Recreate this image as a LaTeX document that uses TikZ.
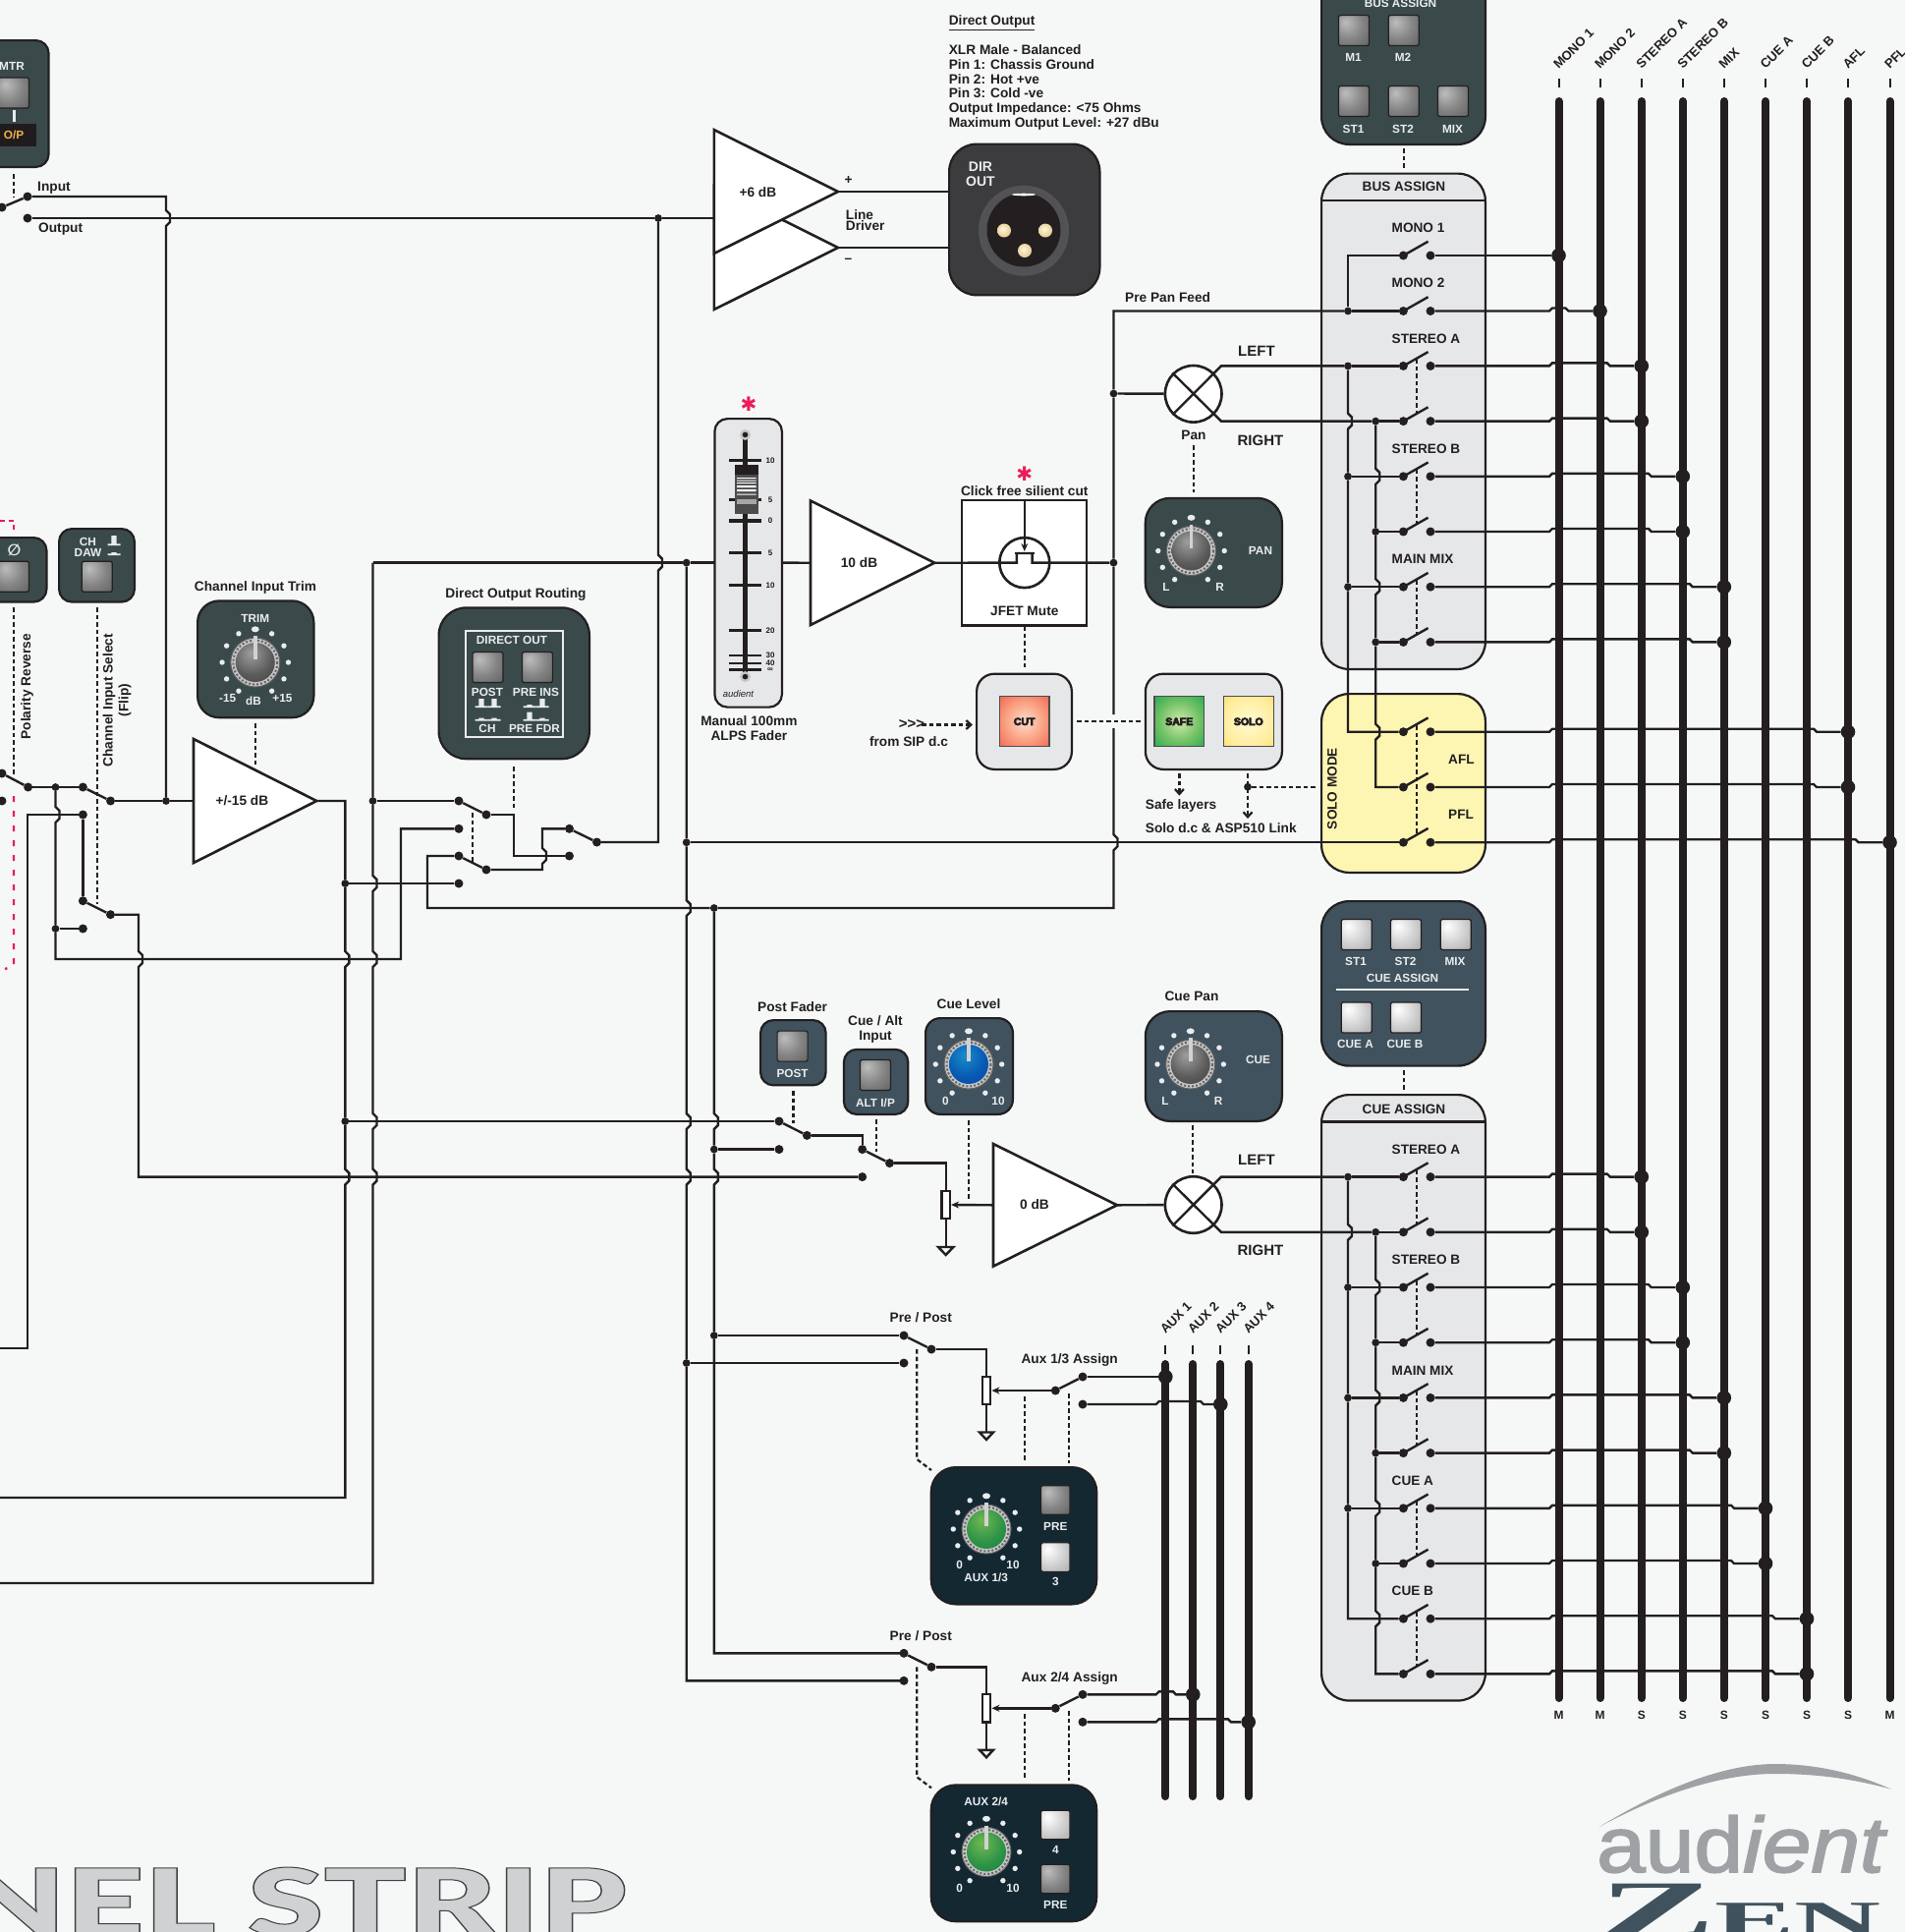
\documentclass[tikz,border=0pt]{standalone}
\usepackage{fontspec}
\setmainfont{Liberation Sans}
\newfontfamily\serifz{Liberation Serif}
\newfontfamily\dejav{DejaVu Sans}
\newfontfamily\heavyf{Lato Black}
\usetikzlibrary{arrows.meta,calc,shapes.geometric}
\definecolor{ink}{HTML}{231F20}
\definecolor{bgc}{HTML}{F5F8F7}
\definecolor{boxg}{HTML}{E6E7E9}
\definecolor{tealp}{HTML}{3A4A4B}
\definecolor{bluep}{HTML}{40525D}
\definecolor{navyp}{HTML}{142832}
\definecolor{dirp}{HTML}{3C3C3E}
\definecolor{yelb}{HTML}{FDF6B2}
\definecolor{redm}{HTML}{ED1C5B}
\definecolor{paper}{HTML}{E9ECEC}
\definecolor{logog}{HTML}{9EA2A5}
\definecolor{ambr}{HTML}{F0B24A}
\pgfdeclareradialshading{btndim}{\pgfpoint{-14bp}{14bp}}{rgb(0bp)=(.74,.74,.74);rgb(25bp)=(.52,.52,.52);rgb(60bp)=(.30,.30,.30);rgb(100bp)=(.30,.30,.30)}
\pgfdeclareradialshading{btnbri}{\pgfpoint{-14bp}{14bp}}{rgb(0bp)=(1,1,1);rgb(25bp)=(.82,.82,.82);rgb(60bp)=(.58,.58,.58);rgb(100bp)=(.58,.58,.58)}
\pgfdeclareradialshading{btncut}{\pgfpoint{0bp}{0bp}}{rgb(0bp)=(.99,.87,.80);rgb(20bp)=(.98,.62,.50);rgb(42bp)=(.92,.33,.25);rgb(100bp)=(.92,.33,.25)}
\pgfdeclareradialshading{btnsafe}{\pgfpoint{0bp}{0bp}}{rgb(0bp)=(.82,.92,.68);rgb(20bp)=(.45,.76,.40);rgb(42bp)=(.05,.64,.30);rgb(100bp)=(.05,.64,.30)}
\pgfdeclareradialshading{btnsolo}{\pgfpoint{0bp}{0bp}}{rgb(0bp)=(1,.98,.82);rgb(25bp)=(1,.93,.62);rgb(45bp)=(.95,.84,.35);rgb(100bp)=(.95,.84,.35)}
\pgfdeclareradialshading{knobgray}{\pgfpoint{-6bp}{12bp}}{rgb(0bp)=(.62,.62,.62);rgb(25bp)=(.36,.36,.36);rgb(60bp)=(.16,.16,.16);rgb(100bp)=(.16,.16,.16)}
\pgfdeclareradialshading{knobblue}{\pgfpoint{-6bp}{12bp}}{rgb(0bp)=(.10,.55,.80);rgb(25bp)=(.03,.35,.70);rgb(60bp)=(.06,.20,.62);rgb(100bp)=(.06,.20,.62)}
\pgfdeclareradialshading{knobgreen}{\pgfpoint{-6bp}{12bp}}{rgb(0bp)=(.45,.72,.32);rgb(25bp)=(.18,.58,.28);rgb(60bp)=(.05,.42,.22);rgb(100bp)=(.05,.42,.22)}
\pgfdeclareradialshading{pinau}{\pgfpoint{-5bp}{5bp}}{rgb(0bp)=(1,.97,.85);rgb(40bp)=(.86,.72,.47);rgb(100bp)=(.65,.52,.30)}
\pgfdeclareradialshading{xlrring}{\pgfpoint{0bp}{0bp}}{rgb(0bp)=(.30,.30,.31);rgb(40bp)=(.34,.34,.35);rgb(50bp)=(.50,.50,.51);rgb(100bp)=(.50,.50,.51)}
\newcommand{\lblf}{\fontsize{13.7}{15}\bfseries\selectfont}
\newcommand{\plbf}{\fontsize{11.8}{13}\bfseries\selectfont}
\tikzset{
  wire/.style={draw=ink,line width=2.4,line join=miter},
  buswire/.style={draw=ink,line width=8,line cap=round},
  ctrl/.style={draw=ink,line width=2.2,dash pattern=on 4.5 off 3},
  redctrl/.style={draw=redm,line width=2.4,dash pattern=on 6 off 9},
  smalld/.style={circle,fill=ink,inner sep=0,minimum size=7.8},
  cdot/.style={circle,fill=ink,inner sep=0,minimum size=9},
  bigd/.style={circle,fill=ink,inner sep=0,minimum size=14.6},
  amp/.style={draw=ink,line width=2.6,fill=white,line join=miter},
  lbl/.style={font=\lblf,text=ink,inner sep=0},
  titleb/.style={font=\fontsize{13.6}{15}\bfseries\selectfont,text=ink,inner sep=0},
  bigl/.style={font=\fontsize{15}{15}\bfseries\selectfont,text=ink,inner sep=0},
  plbl/.style={font=\plbf,text=paper,inner sep=0},
  tinyl/.style={font=\fontsize{8}{9}\bfseries\selectfont,text=ink,inner sep=0},
  pbase/.style={draw=ink,line width=2.2,inner sep=0,outer sep=0,anchor=north west,rounded corners=#1},
  tealbox/.style={pbase=#1,fill=tealp},
  bluebox/.style={pbase=#1,fill=bluep},
  navybox/.style={pbase=#1,fill=navyp},
  dirbox/.style={pbase=#1,fill=dirp},
  greybox/.style={pbase=#1,fill=boxg},
  yelbox/.style={pbase=#1,fill=yelb},
  btn/.style={draw=ink,line width=1.2,inner sep=0,minimum width=#1,minimum height=#1,rounded corners=1.5},
  litb/.style={draw=ink!80,line width=1.2,inner sep=0,minimum width=50.6,minimum height=51},
  litt/.style={inner sep=0,text=ink,font=\fontsize{10.5}{11}\bfseries\selectfont},
  potr/.style={draw=ink,line width=2.2,fill=white,inner sep=0,minimum width=8.6,minimum height=28.4},
  tipf/.style={-{Stealth[length=8,width=7]}},
  tipo/.style={-{Straight Barb[length=5,width=9]}},
}
\newcommand{\heavytxt}[1]{\special{pdf:code 2 Tr 0.7 w 0.14 0.12 0.13 RG}#1\special{pdf:code 0 Tr}}
\newcommand{\pnl}[7]{\node[#2=#7,minimum width={#5-#3-2.2},minimum height={#6-#4-2.2}] (#1) at (#3+1.1,#4+1.1) {};}
\newcommand{\vh}[2]{-- (#1,#2-8) -- (#1+4,#2-4) -- (#1+4,#2+4) -- (#1,#2+8)}
\newcommand{\ctl}[5]{\coordinate (#1a) at (#2,#3);\coordinate (#1b) at (#4,#5);\draw[ctrl] (#1a) -- (#1b);}
\newcommand{\ctla}[5]{\coordinate (#1a) at (#2,#3);\coordinate (#1b) at (#4,#5);\draw[ctrl,tipo] (#1a) -- (#1b);}
\newcommand{\tcen}[5][lbl]{\node[#1,anchor=base] (#2) at (#3,#4+4.8) {#5};}
\newcommand{\tlef}[5][lbl]{\node[#1,anchor=base west] (#2) at (#3,#4+4.8) {#5};}
\newcommand{\pcen}[4]{\node[plbl,anchor=base] (#1) at (#2,#3+4.2) {#4};}
\newcommand{\sbtn}[5]{\node[btn=#5,shading=#4] (#1) at (#2,#3) {};}
\newcommand{\knob}[4]{%
  \foreach \aa in {-150,-120,-90,-60,-30,30,60,90,120,150}{\fill[paper] ({#2+33.7*sin(\aa)},{#3-33.7*cos(\aa)}) circle (2.7);}
  \fill[paper] (#2,#3-33.7) ellipse (4 and 3);
  \node[circle,draw=ink!70,line width=1,fill=gray!45,inner sep=0,minimum size=50] (#1) at (#2,#3) {};
  \draw[gray!80!black,line width=2,dash pattern=on 2 off 2] (#2,#3) circle (22.5);
  \node[circle,shading=#4,inner sep=0,minimum size=40] (#1i) at (#2,#3) {};
  \draw[line width=3.6,draw=gray!35] (#2,#3-27) -- (#2,#3-3);
}
\newcommand{\latch}[3]{\fill[paper] (#1-6.5,#2) rectangle (#1+6.5,#2-1.6) (#1-2.6,#2) rectangle (#1+2.6,#2-#3);}
\newcommand{\hopw}[4]{\draw[wire] (#1) -- (1577,#3) -- (1580,#3-3) -- (#4-35,#3-3) -- (#4-32,#3) -- (#2);}
\newcommand{\triamp}[5]{\coordinate (#1I) at (#2,{(#3+#4)/2});\coordinate (#1O) at (#5,{(#3+#4)/2});\draw[amp] (#2,#3) -- (#2,#4) -- (#1O) -- cycle;}
\begin{document}
\begin{tikzpicture}[x=1pt,y=-1pt]
\path[use as bounding box,fill=bgc] (0,0) rectangle (1939,1966);
\clip (0,0) rectangle (1939,1966);

%% ---------- big background text and logo
\node[anchor=base east,inner sep=0] (stripword) at (638,1970) {\scalebox{1.467}[1]{\fontsize{95}{95}\heavyf\selectfont\color[HTML]{D0D1D3}\special{pdf:code 2 Tr 1 w 0.25 0.25 0.27 RG}NEL STRIP\special{pdf:code 0 Tr}}};
\fill[logog] (1627.3,1859.3) .. controls (1700,1815) and (1760,1795) .. (1806.7,1795) .. controls (1850,1795) and (1890,1805) .. (1925,1820.7) .. controls (1885,1810) and (1850,1805) .. (1806.7,1805) .. controls (1760,1805) and (1700,1820) .. (1627.3,1859.3) -- cycle;
\node[anchor=base west,inner sep=0,text=logog] (logoa) at (1625,1905) {\scalebox{1.115}[1]{\fontsize{80}{80}\selectfont\special{pdf:code 2 Tr 1.6 w 0.62 0.635 0.647 RG}aud\itshape ient\special{pdf:code 0 Tr}}};
\node[anchor=base west,inner sep=0,text=bluep] (logoz) at (1627,1971) {\scalebox{2.15}[1]{\fontsize{83}{83}\serifz\bfseries\selectfont Z}};
\node[anchor=base west,inner sep=0,text=bluep] (logoe) at (1745,1971) {\scalebox{2.3}[1]{\fontsize{53}{53}\serifz\bfseries\selectfont EN}};

%% ---------- grey boxes on the right
\pnl{busbox}{greybox}{1344}{175.5}{1513}{682}{28}
\pnl{cuebox}{greybox}{1344}{1113}{1513}{1731.6}{28}
\pnl{solobox}{yelbox}{1344}{705}{1513}{889}{28}
\coordinate (bh1) at (1345,204);\coordinate (bh2) at (1512,204);\draw[wire] (bh1) -- (bh2);
\coordinate (ch1) at (1345,1141.5);\coordinate (ch2) at (1512,1141.5);\draw[wire] (ch1) -- (ch2);
\tcen[titleb]{busT}{1429}{190}{BUS ASSIGN}
\tcen[titleb]{cueT}{1429}{1129}{CUE ASSIGN}
\foreach \nm/\lb/\yy in {m1/MONO 1/232,m2/MONO 2/288,sa/STEREO A/344.6,sb/STEREO B/456.7,mm/MAIN MIX/569,csa/STEREO A/1170,csb/STEREO B/1282,cmm/MAIN MIX/1394.3,cca/CUE A/1506.6,ccb/CUE B/1619}
  {\tlef[titleb]{lb\nm}{1416.5}{\yy}{\lb}}
\node[titleb,rotate=90] (soloT) at (1356,802.5) {SOLO MODE};
\tlef[titleb]{aflT}{1474}{773}{AFL}
\tlef[titleb]{pflT}{1474}{829}{PFL}

%% ---------- main buses
\foreach \n/\bx/\txt/\kd in {1/1586.5/MONO 1/M,2/1628.5/MONO 2/M,3/1670.8/STEREO A/S,4/1712.8/STEREO B/S,5/1754.8/MIX/S,6/1797/CUE A/S,7/1839/CUE B/S,8/1881/AFL/S,9/1923.5/PFL/M}{
  \coordinate (busT\n) at (\bx,103);\coordinate (busB\n) at (\bx,1728);
  \draw[buswire] (busT\n) -- (busB\n);
  \coordinate (tickA\n) at (\bx,80);\coordinate (tickB\n) at (\bx,89);
  \draw[draw=ink,line width=2] (tickA\n) -- (tickB\n);
  \node[lbl,rotate=45,anchor=base west,font=\fontsize{13}{14}\bfseries\selectfont] (busL\n) at (\bx,71) {\txt};
  \node[lbl,font=\fontsize{12}{14}\bfseries\selectfont] (busK\n) at (\bx,1745) {\kd};
}

%% ---------- bus assign rows
\foreach \i/\yy/\tg/\bx in {1/260/1/1586.5,2/316.5/2/1628.5,3/372.4/3/1670.8,4/428.6/3/1670.8,5/484.8/4/1712.8,6/541/4/1712.8,7/597.2/5/1754.8,8/653.4/5/1754.8}{
  \node[cdot] (bL\i) at (1428.4,\yy) {};
  \node[cdot] (bR\i) at (1456,\yy) {};
  \coordinate (bA\i) at (1453.6,\yy-14.3);
  \draw[wire] (bL\i.center) -- (bA\i);
  \node[bigd] (bD\i) at (\bx,\yy) {};
}
\draw[wire] (bR1) -- (bD1);
\hopw{bR2}{bD2}{316.5}{1628.5}
\hopw{bR3}{bD3}{372.4}{1670.8}
\hopw{bR4}{bD4}{428.6}{1670.8}
\hopw{bR5}{bD5}{484.8}{1712.8}
\hopw{bR6}{bD6}{541}{1712.8}
\hopw{bR7}{bD7}{597.2}{1754.8}
\hopw{bR8}{bD8}{653.4}{1754.8}
\foreach \p/\yy in {g1/372.4,g2/484.8,g3/597.2}{\ctl{\p}{1442}{\yy-7}{1442}{\yy+49}}
\foreach \n/\xx/\yy in {bJ2/1372/316.5,bJ3/1372/372.4,bJ5/1372/484.8,bJ7/1372/597.2,bJ4/1400.2/428.6,bJ6/1400.2/541,bJ8/1400.2/653.4}{\node[smalld] (\n) at (\xx,\yy) {};}

%% ---------- solo rows
\foreach \i/\yy/\bx in {1/744.7/1881,2/801/1881,3/857.2/1923.5}{
  \node[cdot] (sL\i) at (1428.4,\yy) {};
  \node[cdot] (sR\i) at (1456,\yy) {};
  \coordinate (sA\i) at (1453.6,\yy-14.3);
  \draw[wire] (sL\i.center) -- (sA\i);
  \node[bigd] (sD\i) at (\bx,\yy) {};
}
\hopw{sR1}{sD1}{744.7}{1881}
\hopw{sR2}{sD2}{801}{1881}
\hopw{sR3}{sD3}{857.2}{1923.5}
\ctl{gs}{1442}{738}{1442}{848}

%% ---------- rails of bus assign
\draw[wire] (bL1) -- (1372,260) -- (bJ2);
\draw[wire] (bJ3) \vh{1372}{428.6} -- (bJ5) -- (bJ7) -- (1372,744.7) -- (sL1);
\draw[wire] (bJ4) \vh{1400.2}{484.8} -- (bJ6) \vh{1400.2}{597.2} -- (bJ8) \vh{1400.2}{744.7} -- (1400.2,801) -- (sL2);
\draw[wire] (bJ2) -- (bL2);
\draw[wire] (bJ3) -- (bL3);
\draw[wire] (bJ4) -- (bL4);
\draw[wire] (bJ5) -- (bL5);
\draw[wire] (bJ6) -- (bL6);
\draw[wire] (bJ7) -- (bL7);
\draw[wire] (bJ8) -- (bL8);

%% ---------- cue assign rows
\foreach \i/\yy/\bx in {0/1197.6/1670.8,1/1253.8/1670.8,2/1310/1712.8,3/1366.2/1712.8,4/1422.4/1754.8,5/1478.6/1754.8,6/1534.8/1797,7/1591/1797,8/1647.2/1839,9/1703.4/1839}{
  \node[cdot] (cL\i) at (1428.4,\yy) {};
  \node[cdot] (cR\i) at (1456,\yy) {};
  \coordinate (cA\i) at (1453.6,\yy-14.3);
  \draw[wire] (cL\i.center) -- (cA\i);
  \node[bigd] (cD\i) at (\bx,\yy) {};
  \hopw{cR\i}{cD\i}{\yy}{\bx}
}
\foreach \p/\yy in {h1/1197.6,h2/1310,h3/1422.4,h4/1534.8,h5/1647.2}{\ctl{\p}{1442}{\yy-7}{1442}{\yy+49}}
\foreach \n/\xx/\yy in {cJ0/1372/1197.6,cJ2/1372/1310,cJ4/1372/1422.4,cJ6/1372/1534.8,cJ1/1400.2/1253.8,cJ3/1400.2/1366.2,cJ5/1400.2/1478.6,cJ7/1400.2/1591}{\node[smalld] (\n) at (\xx,\yy) {};}
\draw[wire] (cJ0) \vh{1372}{1253.8} -- (cJ2) -- (cJ4) -- (cJ6) -- (1372,1647.2) -- (cL8);
\draw[wire] (cJ1) \vh{1400.2}{1310} -- (cJ3) \vh{1400.2}{1422.4} -- (cJ5) \vh{1400.2}{1534.8} -- (cJ7) \vh{1400.2}{1647.2} -- (1400.2,1703.4) -- (cL9);
\draw[wire] (cJ0) -- (cL0);
\draw[wire] (cJ1) -- (cL1);
\draw[wire] (cJ2) -- (cL2);
\draw[wire] (cJ3) -- (cL3);
\draw[wire] (cJ4) -- (cL4);
\draw[wire] (cJ5) -- (cL5);
\draw[wire] (cJ6) -- (cL6);
\draw[wire] (cJ7) -- (cL7);

%% ---------- bus assign panel (top right)
\pnl{busp}{tealbox}{1344}{-40}{1513}{148}{28}
\pcen{busp1}{1425.5}{3}{BUS ASSIGN}
\sbtn{pm1}{1378}{31}{btndim}{31}
\sbtn{pm2}{1428.8}{31}{btndim}{31}
\sbtn{ps1}{1378}{103}{btndim}{31}
\sbtn{ps2}{1428.8}{103}{btndim}{31}
\sbtn{ps3}{1479}{103}{btndim}{31}
\pcen{lm1}{1377.5}{58.5}{M1}
\pcen{lm2}{1428}{58.5}{M2}
\pcen{ls1}{1377.5}{131.7}{ST1}
\pcen{ls2}{1428}{131.7}{ST2}
\pcen{ls3}{1478.5}{131.7}{MIX}
\ctl{busd}{1429}{151}{1429}{173}

%% ---------- cue assign panel
\pnl{cuep}{bluebox}{1344}{916}{1513}{1085.7}{28}
\sbtn{cb1}{1380.7}{951}{btnbri}{31}
\sbtn{cb2}{1431}{951}{btnbri}{31}
\sbtn{cb3}{1481.7}{951}{btnbri}{31}
\sbtn{cb4}{1380.7}{1035.5}{btnbri}{31}
\sbtn{cb5}{1431}{1035.5}{btnbri}{31}
\pcen{clb1}{1380}{978.5}{ST1}
\pcen{clb2}{1430.5}{978.5}{ST2}
\pcen{clb3}{1481}{978.5}{MIX}
\pcen{clb4}{1427.5}{995}{CUE ASSIGN}
\coordinate (cueru1) at (1360,1007);\coordinate (cueru2) at (1495,1007);\draw[draw=paper,line width=1.6] (cueru1) -- (cueru2);
\pcen{clb5}{1379.5}{1062.7}{CUE A}
\pcen{clb6}{1430}{1062.7}{CUE B}
\ctl{cued}{1429}{1089}{1429}{1110}

%% ---------- MTR, polarity and channel select panels
\pnl{mtrp}{tealbox}{-50}{40}{50.6}{171}{13}
\pcen{mtrl}{12}{67}{MTR}
\sbtn{mtrb}{14}{94.5}{btndim}{31}
\node[fill=ink!90!black,inner sep=0,minimum width=47,minimum height=23] (opbox) at (13.5,137.5) {};
\coordinate (opa) at (14,112);\coordinate (opb) at (14,124);\draw[draw=paper,line width=3] (opa) -- (opb);
\node[plbl,text=ambr] (opl) at (14,137) {O/P};
\pnl{polp}{tealbox}{-50}{546}{48.5}{613.6}{13}
\node[plbl,font=\fontsize{16}{16}\dejav\bfseries\selectfont] (polsym) at (14.5,560) {∅};
\sbtn{polb}{14}{586.7}{btndim}{31}
\pnl{chp}{tealbox}{59}{537}{138}{613.6}{13}
\pcen{chl1}{89.5}{551.4}{CH}
\pcen{chl2}{89.5}{561.8}{DAW}
\latch{116}{555}{10}
\latch{116}{565}{3}
\sbtn{chb}{98.7}{586.7}{btndim}{31}
\coordinate (rda) at (0,530);\coordinate (rdb) at (14,530);\coordinate (rdc) at (14,541);\draw[redctrl,dash pattern=on 5 off 4] (rda) -- (rdb) -- (rdc);
\coordinate (rdd) at (14,810);\coordinate (rde) at (14,983);\coordinate (rdf) at (5,986);\draw[redctrl] (rdd) -- (rde) -- (rdf);
\ctl{mtrd}{14}{177}{14}{200}
\ctl{pold}{14}{618}{14}{790}
\ctl{chd}{98.7}{618}{98.7}{920}
\node[lbl,rotate=90] (polt) at (27.7,698.7) {Polarity Reverse};
\node[lbl,rotate=90] (chst) at (111,712.8) {Channel Input Select};
\node[lbl,rotate=90] (chst2) at (127,712.5) {(Flip)};

%% ---------- trim panel
\tcen{trimTt}{260}{596.6}{Channel Input Trim}
\pnl{trimp}{tealbox}{200}{610.3}{320.5}{731.3}{22}
\pcen{trimL}{259.8}{629}{TRIM}
\knob{ktrim}{259.8}{674}{knobgray}
\pcen{trimA}{231.7}{710.7}{-15}
\pcen{trimB}{258}{713}{dB}
\pcen{trimC}{287.5}{710.7}{+15}
\ctl{trimd}{260}{736}{260}{780}

%% ---------- direct output routing panel
\tcen{droT}{525}{603.6}{Direct Output Routing}
\pnl{drop}{tealbox}{445.5}{617.3}{601}{773.3}{28}
\node[draw=paper,line width=1.8,inner sep=0,minimum width=98.8,minimum height=108.3] (drof) at (523.4,695.8) {};
\pcen{droL}{521}{651}{DIRECT OUT}
\sbtn{drb1}{496.4}{679}{btndim}{31}
\sbtn{drb2}{547}{679}{btndim}{31}
\pcen{droP}{496}{704}{POST}
\pcen{droI}{545.5}{704}{PRE INS}
\pcen{droH}{496}{741}{CH}
\pcen{droF}{544}{741}{PRE FDR}
\latch{490}{720}{9}
\latch{503}{720}{9}
\latch{490}{733.5}{3}
\latch{503}{733.5}{3}
\latch{539}{720}{3}
\latch{552}{720}{9}
\latch{539}{733.5}{9}
\latch{552}{733.5}{3}
\ctl{drod}{523}{780}{523}{822}

%% ---------- left network nodes
\node[cdot] (mtrP) at (2,211) {};
\node[cdot] (mtrA) at (28,200) {};
\node[cdot] (mtrB) at (28,222) {};
\draw[wire] (mtrP) -- (mtrA);
\tlef{inT}{38}{189.5}{Input}
\tlef{outT}{39}{232}{Output}
\node[cdot] (polU) at (2,787) {};
\node[cdot] (polB) at (2,815) {};
\node[cdot] (polC) at (28.6,801) {};
\draw[wire] (polU) -- (polC);
\node[smalld] (j56a) at (56.5,801) {};
\node[smalld] (j56b) at (56.5,945) {};
\node[cdot] (s1a) at (84.4,801) {};
\node[cdot] (s1b) at (84.4,829) {};
\node[cdot] (s1o) at (112.5,815) {};
\draw[wire] (s1a) -- (s1o);
\node[cdot] (s2a) at (84.4,916.7) {};
\node[cdot] (s2b) at (84.4,945) {};
\node[cdot] (s2o) at (112.5,930.7) {};
\draw[wire] (s2a) -- (s2o);
\node[smalld] (j169) at (169,815) {};
\node[smalld] (jOut) at (670,222) {};
\node[smalld] (j379) at (379.5,815) {};
\node[smalld] (j351a) at (351.3,899) {};
\node[smalld] (j351b) at (351.3,1141) {};
\node[smalld] (j698) at (698.7,572.6) {};
\node[smalld] (jSolo) at (698.7,857.2) {};
\node[smalld] (ja1) at (698.7,1387) {};
\node[smalld] (j726) at (726.8,924) {};
\node[smalld] (jpf2) at (726.8,1169.6) {};
\node[smalld] (ja2) at (726.8,1359) {};
\node[smalld] (jMute) at (1133.5,572.6) {};
\node[smalld] (jPan) at (1133.5,400.5) {};
\node[cdot] (dro1) at (467,815) {};
\node[cdot] (dro2) at (467,843.3) {};
\node[cdot] (dro3) at (467,871) {};
\node[cdot] (dro4) at (467,899) {};
\node[cdot] (droA) at (495,829) {};
\node[cdot] (droB) at (495,885) {};
\node[cdot] (dro5) at (579.5,871) {};
\node[cdot] (dro6) at (579.5,843.3) {};
\node[cdot] (droC) at (607.5,857) {};
\draw[wire] (dro1) -- (droA);
\draw[wire] (dro3) -- (droB);
\draw[wire] (dro6) -- (droC);
\ctl{drog}{481}{827}{481}{877}

%% ---------- amplifiers
\triamp{trim}{197}{752}{878}{322.3}
\triamp{ldB}{726.8}{189}{315}{853}
\triamp{ldT}{726.8}{132}{258}{853}
\triamp{ten}{825}{509.5}{636}{951.3}
\triamp{cuz}{1011}{1164}{1288.6}{1137}
\tcen{trimT}{246.4}{815}{+/-15 dB}
\tcen{ldTT}{771.4}{196}{+6 dB}
\tcen{tenT}{874.5}{572.6}{10 dB}
\tcen{cuzT}{1053}{1226}{0 dB}

%% ---------- direct output connector
\foreach \yy/\tx/\nn in {20.7/\underline{Direct Output}/a,50.6/XLR Male - Balanced/b,65.5/Pin 1: Chassis Ground/c,80.4/Pin 2: Hot +ve/d,95/Pin 3: Cold -ve/e,110/Output Impedance: <75 Ohms/f,124.8/Maximum Output Level: +27 dBu/g}{\tlef{dout\nn}{965.6}{\yy}{\tx}}
\pnl{dirbx}{dirbox}{965}{145.5}{1120.5}{301.4}{28}
\node[plbl,font=\fontsize{14}{15}\bfseries\selectfont] (dirl1) at (998,170) {DIR};
\node[plbl,font=\fontsize{14}{15}\bfseries\selectfont] (dirl2) at (998,184.5) {OUT};
\node[circle,shading=xlrring,inner sep=0,minimum size=92] (xlr) at (1042,234.7) {};
\node[circle,fill=ink,inner sep=0,minimum size=75] (xlri) at (1042,234) {};
\fill[white] (1042,198) ellipse (12 and 1.3);
\foreach \nn/\xx/\yy in {1/1022/234.5,2/1064/234.5,3/1043/255}{\node[circle,shading=pinau,inner sep=0,minimum size=14] (pin\nn) at (\xx,\yy) {};}
\draw[wire] (ldTO) -- (dirbx.west |- ldTO);
\draw[wire] (ldBO) -- (dirbx.west |- ldBO);
\tcen{plusT}{863.5}{182.5}{+}
\tcen{minusT}{863.5}{263}{--}
\tlef{ldT1}{860.7}{218.5}{Line}
\tlef{ldT2}{860.7}{230}{Driver}
\tlef{ppfT}{1145}{302.7}{Pre Pan Feed}

%% ---------- fader
\pnl{fader}{greybox}{726.3}{425}{797}{720.7}{13}
\coordinate (trkT) at (758.5,442.4);\coordinate (trkB) at (758.5,688.6);
\draw[draw=ink,line width=5.5] (trkT) -- (trkB);
\foreach \n/\yy/\lw/\txt in {a/468.7/2.6/10,b/508.7/2.6/5,c/530/4.4/0,d/562.6/2.6/5,e/595.4/2.6/10,f/641.4/2.6/20,g/666.8/2.6/30,h/675/2.6/40,i/681.4/2.6/∞}{
  \coordinate (ftk\n a) at (742,\yy);\coordinate (ftk\n b) at (775,\yy);
  \draw[draw=ink,line width=\lw] (ftk\n a) -- (ftk\n b);
  \node[tinyl] (fl\n) at (784,\yy) {\txt};
}
\foreach \n/\yy in {t/442.4,b/688.6}{\node[circle,fill=gray!45,inner sep=0,minimum size=11] (scr\n) at (758.5,\yy) {};\node[circle,fill=ink,inner sep=0,minimum size=5.6] (scs\n) at (758.5,\yy) {};}
\node[fill=black!70,inner sep=0,minimum width=23.6,minimum height=50.6] (fcap) at (759.8,498) {};
\fill[ink] (748,472.7) rectangle (771.6,483);
\fill[white] (750,486) rectangle (769.5,487) (750,488.5) rectangle (769.5,489.5) (750,491) rectangle (769.5,492.2) (750,494) rectangle (769.5,496) (750,498) rectangle (769.5,500) (750,502.5) rectangle (769.5,503.5);
\fill[gray!70] (750,508) rectangle (769.5,513);
\node[inner sep=0,text=ink,font=\fontsize{9.5}{10}\itshape\selectfont] (fadl) at (751.5,706.4) {audient};
\tcen{fadT1}{762.4}{734}{Manual 100mm}
\tcen{fadT2}{762.4}{749}{ALPS Fader}
\node[inner sep=0,text=redm,font=\fontsize{20}{20}\dejav\selectfont] (star1) at (762,411.7) {✱};
\node[inner sep=0,text=redm,font=\fontsize{20}{20}\dejav\selectfont] (star2) at (1042.8,481.8) {✱};

%% ---------- JFET
\node[draw=ink,line width=2.6,fill=white,inner sep=0,minimum width=127,minimum height=127.4] (jbox) at (1042.5,572.7) {};
\node[circle,draw=ink,line width=2.6,inner sep=0,minimum size=51] (jcir) at (1042.8,572.6) {};
\coordinate (jgt) at (1042.8,509);\coordinate (jgb) at (1042.8,561);
\draw[draw=ink,line width=1.8,tipf] (jgt) -- (jgb);
\coordinate (jba) at (1032.5,563);\coordinate (jbb) at (1053,563);
\draw[draw=ink,line width=2.8] (jba) -- (jbb);
\tcen{jT1}{1042.8}{622}{JFET Mute}
\tcen{jT2}{1042.8}{499.6}{Click free silient cut}
\ctl{jd}{1042.6}{637}{1042.6}{681}

%% ---------- cut / safe / solo
\pnl{cutp}{greybox}{993}{684.6}{1092}{784}{18}
\pnl{safep}{greybox}{1164.8}{684.6}{1306}{784}{18}
\node[litb,shading=btncut] (cutb) at (1042.7,734.1) {};
\node[litb,shading=btnsafe] (safeb) at (1200.3,734.1) {};
\node[litb,shading=btnsolo] (solob) at (1270.8,734.1) {};
\node[litt] (cutl) at (1042.7,734.3) {\heavytxt{CUT}};
\node[litt] (safel) at (1200.3,734.3) {\heavytxt{SAFE}};
\node[litt] (sololb) at (1270.8,734.3) {\heavytxt{SOLO}};
\ctl{cutd}{1096.3}{734}{1161}{734}
\node[lbl,font=\fontsize{15}{15}\bfseries\selectfont] (sipm) at (928,737) {>{}>{}>};
\ctla{sipd}{938}{737.5}{990}{737.5}
\tcen{sipt}{925}{754.6}{from SIP d.c}
\ctla{safed}{1200.4}{787}{1200.4}{809.6}
\tlef{safet}{1165.7}{818.6}{Safe layers}
\ctla{solod}{1270}{787}{1270}{833}
\node[smalld] (soloj) at (1270,800.7) {};
\coordinate (solom) at (1339,800.7);
\draw[ctrl] (soloj) -- (solom);
\tlef{solot}{1165.7}{842.5}{Solo d.c \& ASP510 Link}

%% ---------- pan mixers and panels
\node[circle,draw=ink,line width=2.6,fill=white,inner sep=0,minimum size=57.6] (panC) at (1214.7,400.8) {};
\node[circle,draw=ink,line width=2.6,fill=white,inner sep=0,minimum size=57.6] (cueC) at (1214.7,1226) {};
\coordinate (panNE) at (1243,372.4);\coordinate (panSE) at (1243,428.6);
\coordinate (cueNE) at (1243,1197.6);\coordinate (cueSE) at (1243,1253.8);
\draw[wire] (panC.south west) -- (panNE) -- (bJ3);
\draw[wire] (panC.north west) -- (panSE) -- (bJ4);
\draw[wire] (cueC.south west) -- (cueNE) -- (cJ0);
\draw[wire] (cueC.north west) -- (cueSE) -- (cJ1);
\tlef[bigl]{panT1}{1260}{357.4}{LEFT}
\tlef[bigl]{panT2}{1259.4}{448.6}{RIGHT}
\tlef[bigl]{cueT1}{1260}{1181}{LEFT}
\tlef[bigl]{cueT2}{1259.4}{1273}{RIGHT}
\tcen{panT3}{1215}{443}{Pan}
\ctl{pand}{1215}{453}{1215}{501}
\pnl{panp}{tealbox}{1164.7}{505.8}{1306}{619}{25}
\knob{kpan}{1212.5}{560.5}{knobgray}
\pcen{panL}{1187}{597.4}{L}
\pcen{panR}{1241.5}{597.4}{R}
\pcen{panN}{1283}{560.5}{PAN}
\ctl{cpnd}{1214}{1145}{1214}{1194}
\tcen{cpanT}{1213}{1014}{Cue Pan}
\pnl{cpanp}{bluebox}{1164.8}{1028}{1306}{1142}{25}
\knob{kcpan}{1211.7}{1083}{knobgray}
\pcen{cpanL}{1186}{1120}{L}
\pcen{cpanR}{1240}{1120}{R}
\pcen{cpanN}{1280.6}{1078}{CUE}

%% ---------- post fader, alt input, cue level panels
\tcen{pfT}{806.6}{1025}{Post Fader}
\pnl{pfp}{bluebox}{773}{1037}{841.7}{1105.4}{13}
\sbtn{pfb}{806.6}{1064.6}{btndim}{31}
\pcen{pfl}{806.6}{1092.5}{POST}
\ctl{pfd}{807.5}{1110}{807.5}{1143}
\tcen{altT1}{891}{1039}{Cue / Alt}
\tcen{altT2}{891}{1054}{Input}
\pnl{altp}{bluebox}{857.8}{1066.8}{925.4}{1135}{13}
\sbtn{altb}{891}{1094}{btndim}{31}
\pcen{altl}{891}{1121.8}{ALT I/P}
\ctl{altd}{891.6}{1139}{891.6}{1172}
\tcen{clvT}{986}{1021.4}{Cue Level}
\pnl{clvp}{bluebox}{941}{1035}{1032}{1135}{15}
\knob{kclv}{986}{1083}{knobblue}
\pcen{clv0}{962.3}{1120.4}{0}
\pcen{clv1}{1016}{1120.4}{10}
\ctl{clvd}{986}{1140}{986}{1220}

%% ---------- main wires
\draw[wire] (mtrA) -- (169,200) \vh{169}{222} -- (j169);
\draw[wire] (mtrB) -- (jOut) -- (ldTI |- jOut);
\draw[wire] (jOut) \vh{670}{572.6} -- (670,857) -- (droC);
\draw[wire] (polC) -- (s1a);
\draw[wire] (s1o) -- (j169) -- (trimI);
\coordinate (wfree1) at (0,1372);
\draw[wire] (s1b) -- (28,829) -- (28,1372) -- (wfree1);
\draw[wire] (s1b) -- (s2a);
\draw[wire] (j56a) \vh{56.5}{829} -- (j56b) -- (56.5,976) -- (408,976) -- (408,843.3) -- (dro2);
\draw[wire] (j56b) -- (s2b);
\coordinate (wfree2) at (0,1524);\coordinate (wfree3) at (0,1611);
\draw[wire] (trimO) -- (351.3,815) -- (j351a) \vh{351.3}{976} -- (j351b) \vh{351.3}{1197.6} -- (351.3,1524) -- (wfree2);
\draw[wire] (j351a) -- (dro4);
\coordinate (sigc) at (379.5,572.6);
\draw[wire] (sigc) -- (j379) \vh{379.5}{899} \vh{379.5}{976} \vh{379.5}{1141} \vh{379.5}{1197.6} -- (379.5,1611) -- (wfree3);
\draw[wire] (j379) -- (dro1);
\draw[wire] (droA) -- (523,829) -- (523,871) -- (dro5);
\draw[wire] (dro6) -- (552,843.3) \vh{552}{871} -- (552,885) -- (droB);
\draw[wire] (sigc) -- (j698) -- (fader.west |- j698);
\draw[wire] (fader.east |- j698) -- (tenI);
\draw[wire] (tenO) -- (1034.8,572.6) -- (1034.8,563) -- (1050.6,563) -- (1050.6,572.6) -- (jMute);
\draw[wire] (bJ2) -- (1133.5,316.5) -- (jPan) -- (jMute) -- (1133.5,727) (1133.5,741) \vh{1133.5}{857.2} -- (1133.5,924) -- (j726) -- (435,924) -- (435,871) -- (dro3);
\draw[wire] (jPan) -- (panC);
\draw[wire] (j698) -- (jSolo) \vh{698.7}{924} \vh{698.7}{1141} \vh{698.7}{1197.6} -- (ja1) -- (698.7,1710.3) -- (920,1710.3);
\draw[wire] (j726) \vh{726.8}{1141} -- (jpf2) \vh{726.8}{1197.6} -- (ja2) -- (726.8,1682.3) -- (920,1682.3);
\draw[wire] (jSolo) -- (sL3);
\node[cdot] (pf1) at (793,1141) {};
\node[cdot] (pf2) at (793,1169.6) {};
\node[cdot] (pfO) at (821.4,1155.4) {};
\node[cdot] (alt1) at (877.7,1169.6) {};
\node[cdot] (alt2) at (877.7,1197.6) {};
\node[cdot] (altO) at (905.5,1183.6) {};
\node[potr] (cpot) at (962.7,1226) {};
\draw[wire] (pf1) -- (pfO);
\draw[wire] (alt1) -- (altO);
\draw[wire] (j351b) -- (pf1);
\draw[wire] (jpf2) -- (pf2);
\draw[wire] (pfO) -- (877.7,1155.4) -- (alt1);
\draw[wire] (altO) -- (962.7,1183.6) -- (cpot);
\draw[wire] (s2o) -- (141,930.7) \vh{141}{976} -- (141,1197.6) -- (alt2);
\draw[wire,tipf] (cuzI) -- (cpot.east);
\draw[wire] (cuzO) -- (cueC);
\coordinate (cgnd) at (962.7,1269);
\draw[wire] (cpot) -- (cgnd);
\draw[wire,fill=bgc] (955,1269) -- (970.4,1269) -- (962.7,1277) -- cycle;

%% ---------- aux buses
\foreach \n/\bx/\txt in {1/1186.3/AUX 1,2/1214.3/AUX 2,3/1242.3/AUX 3,4/1270.7/AUX 4}{
  \coordinate (axT\n) at (\bx,1388);\coordinate (axB\n) at (\bx,1828);
  \draw[buswire] (axT\n) -- (axB\n);
  \coordinate (axa\n) at (\bx,1369);\coordinate (axb\n) at (\bx,1378);
  \draw[draw=ink,line width=2] (axa\n) -- (axb\n);
  \node[lbl,rotate=45,anchor=base west,font=\fontsize{13}{14}\bfseries\selectfont] (axL\n) at (\bx,1358) {\txt};
}

%% ---------- aux sends
\foreach \s/\dy in {a/0,b/323.3}{
  \node[cdot] (pU\s) at (920,1359+\dy) {};
  \node[cdot] (pL\s) at (920,1387+\dy) {};
  \node[cdot] (pO\s) at (948,1373+\dy) {};
  \draw[wire] (pU\s) -- (pO\s);
  \node[potr] (pot\s) at (1004,1415+\dy) {};
  \draw[wire] (pO\s) -- (1004,1373+\dy) -- (pot\s);
  \coordinate (gnd\s) at (1004,1457+\dy);
  \draw[wire] (pot\s) -- (gnd\s);
  \draw[wire,fill=bgc] (997,1457.5+\dy) -- (1011,1457.5+\dy) -- (1004,1465+\dy) -- cycle;
  \node[cdot] (wip\s) at (1074.3,1415+\dy) {};
  \node[cdot] (asU\s) at (1102,1401+\dy) {};
  \node[cdot] (asL\s) at (1102,1429+\dy) {};
  \draw[wire] (wip\s) -- (asU\s);
  \draw[wire,tipf] (wip\s) -- (pot\s.east);
  \ctl{dA\s}{1042.7}{1421+\dy}{1042.7}{1486+\dy}
  \ctl{dB\s}{1088.3}{1418+\dy}{1088.3}{1489+\dy}
  \coordinate (dC\s a) at (933.3,1373+\dy);\coordinate (dC\s b) at (933.3,1485+\dy);\coordinate (dC\s c) at (948,1496+\dy);
  \draw[ctrl] (dC\s a) -- (dC\s b) -- (dC\s c);
  \tcen{pp\s}{937.3}{1341+\dy}{Pre / Post}
}
\tcen{as1T}{1088.7}{1383}{Aux 1/3 Assign}
\tcen{as2T}{1088.7}{1706.3}{Aux 2/4 Assign}
\draw[wire] (ja2) -- (pUa);
\draw[wire] (ja1) -- (pLa);
\node[bigd] (axD1) at (1186.3,1401) {};
\node[bigd] (axD3) at (1242.3,1429) {};
\node[bigd] (axD2) at (1214.3,1724.3) {};
\node[bigd] (axD4) at (1270.7,1752.3) {};
\draw[wire] (asUa) -- (axD1);
\draw[wire] (asLa) -- (1176.7,1429) -- (1179.7,1426) -- (1222,1426) -- (1225,1429) -- (axD3);
\draw[wire] (asUb) -- (1176.7,1724.3) -- (1179.7,1721.3) -- (1194,1721.3) -- (1197,1724.3) -- (axD2);
\draw[wire] (asLb) -- (1176.7,1752.3) -- (1179.7,1749.3) -- (1250,1749.3) -- (1253,1752.3) -- (axD4);

%% ---------- aux panels
\pnl{ax1p}{navybox}{946.7}{1492}{1117.3}{1633.5}{25}
\knob{kax1}{1004}{1556}{knobgreen}
\pcen{ax10}{976.7}{1592}{0}
\pcen{ax11}{1031}{1592}{10}
\pcen{ax1n}{1003.7}{1605.4}{AUX 1/3}
\sbtn{ax1a}{1074.3}{1526.4}{btndim}{29.5}
\pcen{ax1b}{1074.3}{1552.8}{PRE}
\sbtn{ax1c}{1074.3}{1584.6}{btnbri}{29.5}
\pcen{ax1d}{1074.3}{1609}{3}
\pnl{ax2p}{navybox}{946.7}{1815.3}{1117.3}{1956.3}{25}
\knob{kax2}{1004}{1884.5}{knobgreen}
\pcen{ax20}{976.7}{1921}{0}
\pcen{ax21}{1031}{1921}{10}
\pcen{ax2n}{1003.7}{1833}{AUX 2/4}
\sbtn{ax2a}{1074.3}{1857}{btnbri}{29.5}
\pcen{ax2b}{1074.3}{1882}{4}
\sbtn{ax2c}{1074.3}{1912}{btndim}{29.5}
\pcen{ax2d}{1074.3}{1938}{PRE}
\end{tikzpicture}
\end{document}
